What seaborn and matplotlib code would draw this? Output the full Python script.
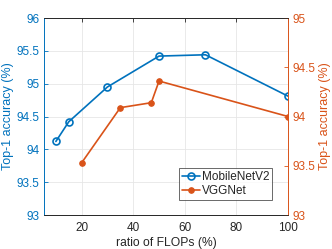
import matplotlib
matplotlib.use("Agg")
import matplotlib.pyplot as plt
import seaborn as sns
import pandas as pd

mb_x = [10, 15, 30, 50, 68, 100]
mb_y = [94.12, 94.42, 94.95, 95.42, 95.44, 94.81]
vgg_x = [20, 35, 47, 50, 100]
vgg_y = [93.53, 94.09, 94.14, 94.36, 94.0]
x_ticks = [20, 40, 60, 80, 100]
left_ticks = [93, 93.5, 94, 94.5, 95, 95.5, 96]
right_ticks = [93, 93.5, 94, 94.5, 95]

BLUE = "#0072BD"
ORANGE = "#D95319"

sns.set_style("white")
plt.rcParams['font.family'] = ['Liberation Sans', 'DejaVu Sans']
plt.rcParams['font.size'] = 8.5

fig = plt.figure(figsize=(3.32, 2.49), dpi=100)
ax = fig.add_axes([44/332, 1-215/249, (288-44)/332, (215-18)/249])
ax2 = ax.twinx()

df_mb = pd.DataFrame({"x": mb_x, "y": mb_y})
df_vgg = pd.DataFrame({"x": vgg_x, "y": vgg_y})

sns.lineplot(data=df_mb, x="x", y="y", ax=ax, color=BLUE, marker="o", markersize=5,
             markerfacecolor="none", markeredgecolor=BLUE, markeredgewidth=1.2,
             linewidth=1.2, label="MobileNetV2", legend=False)
sns.lineplot(data=df_vgg, x="x", y="y", ax=ax2, color=ORANGE, marker="o", markersize=4,
             markerfacecolor=ORANGE, markeredgecolor=ORANGE,
             linewidth=1.2, label="VGGNet", legend=False)

ax.set_xlim(5.4, 100)
ax.set_ylim(93, 96)
ax2.set_ylim(93, 95)
ax.set_xticks(x_ticks)
ax.set_yticks(left_ticks)
ax.set_yticklabels([f"{t:g}" for t in left_ticks])
ax2.set_yticks(right_ticks)
ax2.set_yticklabels([f"{t:g}" for t in right_ticks])

ax.grid(True, color="#e6e6e6", linewidth=0.6)
ax.set_axisbelow(True)

ax.set_xlabel("ratio of FLOPs (%)", color="#262626", fontsize=8.7, labelpad=2)
ax.set_ylabel("Top-1 accuracy (%)", color=BLUE, fontsize=9, labelpad=2)
ax2.set_ylabel("Top-1 accuracy (%)", color=ORANGE, fontsize=9, labelpad=3)

for a in (ax, ax2):
    for s in a.spines.values():
        s.set_linewidth(0.6)
        s.set_color("#262626")
ax2.spines["left"].set_color(BLUE)
ax2.spines["right"].set_color(ORANGE)
ax.spines["left"].set_color(BLUE)
ax.spines["right"].set_color(ORANGE)

ax.tick_params(axis="x", direction="in", colors="#262626", length=3, width=0.6, pad=5, top=True)
ax.tick_params(axis="y", direction="in", colors=BLUE, length=3, width=0.6, pad=3)
ax2.tick_params(axis="y", direction="in", colors=ORANGE, length=3, width=0.6, pad=3)
ax.tick_params(labelsize=8.5)
ax2.tick_params(labelsize=8.5)

h1, l1 = ax.get_legend_handles_labels()
h2, l2 = ax2.get_legend_handles_labels()
leg = ax2.legend(h1 + h2, l1 + l2, loc="lower left", bbox_to_anchor=((179-44)/244, (215-200)/197),
                 fontsize=8.5, frameon=True, fancybox=False, borderpad=0.25, handlelength=1.5,
                 handletextpad=0.2, labelspacing=0.15, borderaxespad=0)
leg.get_frame().set_edgecolor("#262626")
leg.get_frame().set_linewidth(0.6)

fig.savefig("out.png", dpi=100)
